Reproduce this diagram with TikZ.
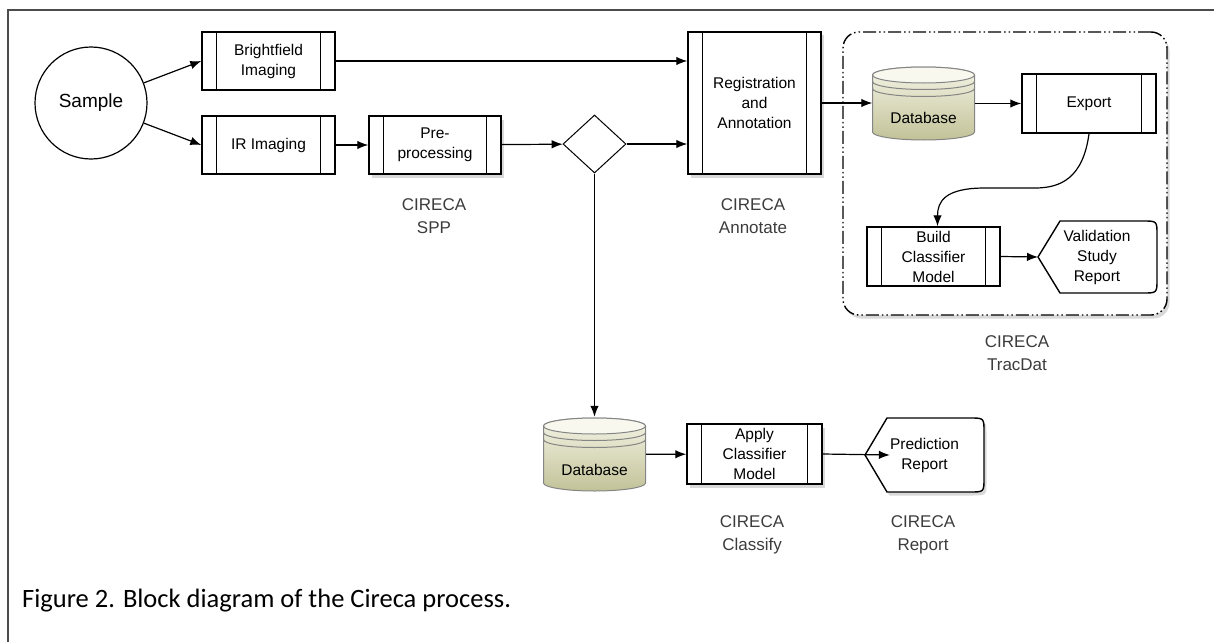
\documentclass[tikz,border=0pt]{standalone}
\usepackage{fontspec}
\usepackage{tikz}
\usetikzlibrary{arrows.meta, positioning, shapes.geometric, shadows}
\newfontfamily\arialfont{Liberation Sans}
\newfontfamily\capfont{Carlito}
\definecolor{dbtop}{HTML}{F4F4E6}
\definecolor{dbbot}{HTML}{C2C298}
\definecolor{dbcap}{HTML}{F8F8EE}
\definecolor{dbline}{HTML}{858585}
\definecolor{lblgray}{HTML}{3C3C3C}
\tikzset{
	>={Latex[length=11pt,width=8.5pt]},
	flow/.style={->, line width=1.2pt},
	shadowed/.style={drop shadow={shadow xshift=2.5pt, shadow yshift=-3.5pt, opacity=0.3}},
	proc/.style={draw, line width=1.4pt, fill=white, inner sep=2pt, align=center,
		minimum width=133pt, minimum height=58pt, font=\arialfont\fontsize{15.5}{20}\selectfont,
		path picture={
			\draw[line width=1.2pt] ([xshift=14.5pt]path picture bounding box.north west) -- ([xshift=14.5pt]path picture bounding box.south west);
			\draw[line width=1.2pt] ([xshift=-14.5pt]path picture bounding box.north east) -- ([xshift=-14.5pt]path picture bounding box.south east);
		}},
	decision/.style={diamond, draw, line width=1pt, fill=white, inner sep=0pt, minimum width=63pt, minimum height=58pt},
	dispshape/.style={draw, line width=1.4pt, fill=white},
	disptext/.style={inner sep=0pt, align=center, font=\arialfont\fontsize{15.5}{20}\selectfont},
	dbtext/.style={inner sep=0pt, font=\arialfont\fontsize{15.5}{20}\selectfont},
	lbl/.style={align=center, text=lblgray, font=\arialfont\fontsize{17}{23}\selectfont},
	groupbox/.style={draw, line width=1.4pt, rounded corners=16pt, fill=white,
		dash pattern=on 13pt off 3pt on 1.5pt off 3pt on 1.5pt off 3pt,
		minimum width=324pt, minimum height=283pt},
	database/.pic={
		\shade[top color=dbtop, bottom color=dbbot, draw=dbline, line width=1pt]
			(-51,-28.5) -- (-51,28.5) arc[start angle=180, end angle=0, x radius=51, y radius=8]
			-- (51,-28.5) arc[start angle=0, end angle=-180, x radius=51, y radius=8] -- cycle;
		\filldraw[fill=dbcap, draw=dbline, line width=1pt] (0,-28.5) ellipse[x radius=51, y radius=8];
		\foreach \dy in {-22,-15}
			\draw[dbline, line width=1pt] (-51,\dy) arc[start angle=180, end angle=0, x radius=51, y radius=8];
	},
}

\begin{document}
\begin{tikzpicture}[x=1pt, y=-1pt]
	\useasboundingbox (0,0) rectangle (1214,642);
	
	% frame
	\draw[black!70, line width=1.3pt] (8,642) -- (8,10) -- (1214,10);
	
	% acquisition
	\node[circle, draw, line width=1.2pt, minimum size=112pt, font=\arialfont\fontsize{19}{22}\selectfont] (sample) at (91,103) {Sample};
	\node[proc] (bf) at (268.5,61) {Brightfield\\Imaging};
	\node[proc] (ir) at (268.5,145) {IR Imaging};
	\node[proc, shadowed, minimum width=132pt] (pre) at (435,145) {Pre-\\processing};
	\node[decision] (dec) at (594.5,144) {};
	\node[proc, shadowed, minimum height=142pt] (reg) at (754.5,103) {Registration\\and\\Annotation};
	
	% tracdat group
	\node[groupbox, shadowed] (tracdat) at (1005,173.5) {};
	\pic at (923.5,103.5) {database};
	\node[minimum width=102pt, minimum height=73pt] (db1) at (923.5,103.5) {};
	\node[dbtext] (db1txt) at (923.5,118) {Database};
	\node[proc, minimum width=134pt, minimum height=59pt] (exp) at (1089,103.5) {Export};
	\node[proc, minimum height=59pt] (build) at (933.5,256.5) {Build\\Classifier\\Model};
	\draw[dispshape] (1038,257) -- (1060,221) -- (1143,221) .. controls (1157,221) .. (1157,235)
		-- (1157,279) .. controls (1157,293) .. (1143,293) -- (1060,293) -- cycle;
	\node[disptext] (valid) at (1097,257) {Validation\\Study\\Report};
	
	% classify branch
	\pic at (594.5,454.5) {database};
	\node[minimum width=103pt, minimum height=75pt] (db2) at (594.5,454.5) {};
	\node[dbtext] (db2txt) at (594.5,470) {Database};
	\node[proc, shadowed, minimum width=135pt, minimum height=60pt] (apply) at (754.5,454) {Apply\\Classifier\\Model};
	\draw[dispshape, shadowed] (865,455) -- (887,418) -- (970,418) .. controls (984,418) .. (984,432)
		-- (984,478) .. controls (984,492) .. (970,492) -- (887,492) -- cycle;
	\node[disptext] (pred) at (924.5,455) {Prediction\\Report};
	
	% labels
	\node[lbl] (sppl) at (434,216) {CIRECA\\SPP};
	\node[lbl] (annl) at (753,216) {CIRECA\\Annotate};
	\node[lbl] (tracl) at (1017,353) {CIRECA\\TracDat};
	\node[lbl] (clsl) at (752,535) {CIRECA\\Classify};
	\node[lbl] (repl) at (923,535) {CIRECA\\Report};
	\node[anchor=base west, inner sep=0pt, font=\capfont\fontsize{26.5}{30}\selectfont] (cap) at (22,607) {Figure 2. Block diagram of the Cireca process.};
	
	% connectors
	\draw[flow] (sample) -- (bf.west);
	\draw[flow] (sample) -- (ir.west);
	\draw[flow] (bf.east) -- (bf.east -| reg.west);
	\draw[flow] (ir) -- (pre);
	\draw[flow] (pre) -- (dec);
	\draw[flow] (dec.east) -- (dec.east -| reg.west);
	\draw[flow] (dec.south) -- (db2.north);
	\draw[flow] (reg.east) -- (reg.east -| db1.west);
	\draw[flow] (db1) -- (exp);
	\draw[flow] (exp.south) .. controls +(-6,45) and +(25,0) .. (1035,188) -- (985,188)
		.. controls +(-40,0) and +(0,-25) .. ([xshift=4pt]build.north);
	\draw[flow] (build.east) -- (valid.west -| 1038,0);
	\draw[flow] (db2) -- (apply);
	\draw[flow] (apply.east) -- (865,455 -| pred.west);
	
\end{tikzpicture}
\end{document}
